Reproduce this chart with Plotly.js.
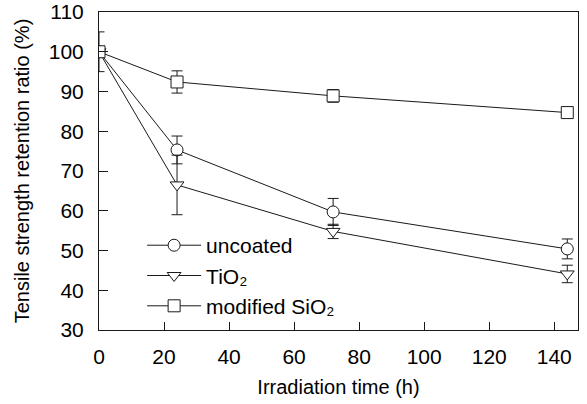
<!DOCTYPE html>
<html><head><meta charset="utf-8">
<script src="https://cdn.plot.ly/plotly-3.0.1.min.js"></script>
<style>html,body{margin:0;padding:0;background:#fff}#chart{width:587px;height:404px}</style>
</head><body><div id="chart"></div>
<script>
var hours = [0, 24, 72, 144];
var uncoated = [100, 75.3, 59.7, 50.4];
var uncoatedErr = [5, 3.5, 3.4, 2.5];
var tio2 = [100, 66.5, 54.8, 44.1];
var tio2Err = [0, 7.5, 1.8, 2.2];
var sio2 = [100, 92.4, 88.9, 84.7];
var sio2Err = [0, 2.8, 1.6, 0];
var seriesNames = ['uncoated', 'TiO\u2082', 'modified SiO\u2082'];

var ink = '#1a1a1a';
var fam = 'Liberation Sans, Arial, sans-serif';
function tr(y, err, name, sym) {
  return {
    x: hours, y: y, name: name, type: 'scatter', mode: 'lines+markers',
    line: {color: ink, width: 1},
    marker: {symbol: sym, size: 12, color: '#fff', line: {color: ink, width: 1}},
    error_y: {type: 'data', array: err, visible: true, color: ink, thickness: 1, width: 5.5}
  };
}
var data = [
  tr(uncoated, uncoatedErr, seriesNames[0], 'circle'),
  tr(tio2, tio2Err, seriesNames[1], 'triangle-down'),
  tr(sio2, sio2Err, seriesNames[2], 'square')
];
var layout = {
  width: 587, height: 404,
  margin: {l: 99, r: 9, t: 12, b: 74},
  paper_bgcolor: '#fff', plot_bgcolor: '#fff',
  font: {family: fam, color: '#000', size: 21},
  showlegend: true,
  legend: {x: 0.09, y: 0.33, xanchor: 'left', yanchor: 'top', bgcolor: 'rgba(0,0,0,0)',
           font: {size: 21, family: fam, color: '#000'}, itemwidth: 54, tracegroupgap: 0},
  xaxis: {
    range: [0, 147.3], dtick: 20, tick0: 0, showgrid: false, zeroline: false,
    showline: true, linecolor: ink, linewidth: 1, mirror: true,
    ticks: 'inside', ticklen: 8, tickcolor: ink, tickwidth: 1, ticklabelstandoff: 8,
    tickfont: {size: 21, family: fam, color: '#000'},
    title: {text: 'Irradiation time (h)', font: {size: 20, family: fam, color: '#000'}, standoff: 12}
  },
  yaxis: {
    range: [30, 110], dtick: 10, tick0: 30, showgrid: false, zeroline: false,
    showline: true, linecolor: ink, linewidth: 1, mirror: true,
    ticks: 'inside', ticklen: 9, tickcolor: ink, tickwidth: 1, ticklabelstandoff: 10,
    tickfont: {size: 21, family: fam, color: '#000'},
    title: {text: 'Tensile strength retention ratio (%)', font: {size: 20, family: fam, color: '#000'}, standoff: 13}
  }
};
Plotly.newPlot('chart', data, layout, {staticPlot: true});
</script></body></html>
